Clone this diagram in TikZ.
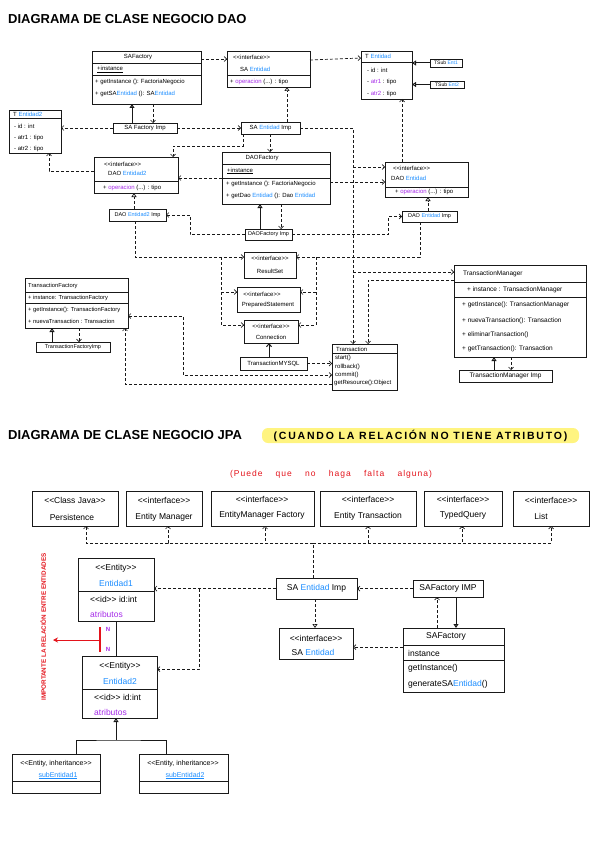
\documentclass[tikz,border=0pt]{standalone}
\usepackage{fontspec}
\setmainfont{Liberation Sans}
\newfontfamily\hlfont[LetterSpace=17]{Liberation Sans}
\newfontfamily\rdfont[LetterSpace=12]{Liberation Sans}
\usetikzlibrary{arrows.meta,calc}
\definecolor{eb}{HTML}{1A8CFF}
\definecolor{pu}{HTML}{A52AE8}
\definecolor{rd}{HTML}{E3131B}
\definecolor{hl}{HTML}{FFF480}
\newcommand\LLa{<{}<}
\newcommand\GGa{>{}>}
\newcommand\Bl[1]{\textcolor{eb}{#1}}
\newcommand\Pu[1]{\textcolor{pu}{#1}}
\newcommand\mkbox[5]{\node[box,minimum width={#4-#2},minimum height={#5-#3}] (#1) at (#2,#3) {};}
\newcommand\hdv[2]{\draw[bl] ($(#1.north west)+(0,#2)$) -- ($(#1.north east)+(0,#2)$);}
\begin{document}
\begin{tikzpicture}[x=1pt,y=-1pt,
  box/.style={draw=black!90,line width=0.9pt,inner sep=0pt,outer sep=0pt,anchor=north west},
  bl/.style={draw=black!90,line width=0.9pt},
  dl/.style={draw=black!90,line width=0.7pt,dash pattern=on 3pt off 2pt},
  sol/.style={draw=black!90,line width=1pt},
  oa/.style={-{Straight Barb[length=2.5pt,width=5pt]}},
  boa/.style={{Straight Barb[length=2.5pt,width=5pt]}-{Straight Barb[length=2.5pt,width=5pt]}},
  inh/.style={-{Triangle[open,length=4pt,width=5pt]}},
  t/.style={inner sep=0pt,anchor=west,font=\fontsize{6}{7}\selectfont},
  tc/.style={inner sep=0pt,font=\fontsize{6}{7}\selectfont},
  ts/.style={inner sep=0pt,font=\fontsize{5}{6}\selectfont},
  tss/.style={inner sep=0pt,font=\fontsize{5.5}{6}\selectfont},
  tw/.style={inner sep=0pt,anchor=west,font=\fontsize{6.5}{8}\selectfont},
  tf/.style={inner sep=0pt,anchor=west,font=\fontsize{5.8}{7}\selectfont},
  j/.style={inner sep=0pt,font=\fontsize{8.5}{10}\selectfont},
  jw/.style={j,anchor=west},
  je/.style={inner sep=0pt,font=\fontsize{7}{8}\selectfont},
]
\useasboundingbox (0,0) rectangle (599,848);

% ================= DAO =================
\node[anchor=west,inner sep=0pt,font=\bfseries\fontsize{13}{15}\selectfont] (ttl1) at (8,19) {DIAGRAMA DE CLASE NEGOCIO DAO};

\mkbox{safac}{92}{51}{201}{104}
\hdv{safac}{12}\hdv{safac}{24}
\node[tc] (safacA) at (138,57.5) {SAFactory};
\node[t] (safacB) at (97,69.5) {\underline{+instance}};
\node[t] (safacC) at (95,82) {+ getInstance (): FactoriaNegocio};
\node[t] (safacD) at (95,93.5) {+ getSA\Bl{Entidad} (): SA\Bl{Entidad}};

\mkbox{saint}{227}{51}{310}{87}
\hdv{saint}{24}
\node[t] (saintA) at (233,57.5) {\LLa interface\GGa};
\node[t] (saintB) at (240,69) {SA \Bl{Entidad}};
\node[t] (saintC) at (230,81.5) {+ \Pu{operacion} (...) : tipo};

\mkbox{tent}{361}{51}{412}{99}
\hdv{tent}{11}
\node[t] (tentA) at (365,56.5) {T \Bl{Entidad}};
\node[t] (tentB) at (367,70) {- id : int};
\node[t] (tentC) at (367,82) {- \Pu{atr1} : tipo};
\node[t] (tentD) at (367,93.5) {- \Pu{atr2} : tipo};

\mkbox{tsubA}{430}{59}{462}{67}
\node[ts] (tsubAt) at (tsubA.center) {TSub \Bl{Ent1}};
\mkbox{tsubB}{430}{81}{464}{88}
\node[ts] (tsubBt) at (tsubB.center) {TSub \Bl{Ent2}};

\mkbox{saimp}{241}{122}{300}{134}
\node[tc] (saimpt) at (saimp.center) {SA \Bl{Entidad} Imp};
\mkbox{safimp}{113}{123}{177}{133}
\node[tc] (safimpt) at (safimp.center) {SA Factory Imp};

\mkbox{tentb}{9}{110}{61}{153}
\hdv{tentb}{8}
\node[t] (tentbA) at (13,114) {T \Bl{Entidad2}};
\node[t] (tentbB) at (14,126) {- id : int};
\node[t] (tentbC) at (14,137.5) {- atr1 : tipo};
\node[t] (tentbD) at (14,148.5) {- atr2 : tipo};

\mkbox{daoib}{94}{157}{178}{193}
\hdv{daoib}{24}
\node[t] (daoibA) at (104,164) {\LLa interface\GGa};
\node[t] (daoibB) at (108,173) {DAO \Bl{Entidad2}};
\node[t] (daoibC) at (103,188) {+ \Pu{operacion} (...) : tipo};

\mkbox{daoibimp}{109}{209}{166}{221}
\node[tss] (daoibimpt) at (daoibimp.center) {DAO \Bl{Entidad2} Imp};

\mkbox{daof}{222}{152}{330}{204}
\hdv{daof}{12}\hdv{daof}{26}
\node[tc] (daofA) at (262,158) {DAOFactory};
\node[t] (daofB) at (227,171) {\underline{+instance}};
\node[t] (daofC) at (226,184) {+ getInstance (): FactoriaNegocio};
\node[t] (daofD) at (226,195.5) {+ getDao \Bl{Entidad} (): Dao \Bl{Entidad}};

\mkbox{daofimp}{245}{229}{292}{240}
\node[tss] (daofimpt) at (daofimp.center) {DAOFactory Imp};

\mkbox{daoi}{385}{162}{468}{197}
\hdv{daoi}{25}
\node[t] (daoiA) at (393,168) {\LLa interface\GGa};
\node[t] (daoiB) at (391,178) {DAO \Bl{Entidad}};
\node[t] (daoiC) at (395,192) {+ \Pu{operacion} (...) : tipo};

\mkbox{daoiimp}{402}{211}{457}{222}
\node[tss] (daoiimpt) at (daoiimp.center) {DAO \Bl{Entidad} Imp};

\mkbox{rs}{244}{252}{296}{278}
\node[tc] (rsA) at (270,258.5) {\LLa interface\GGa};
\node[tc] (rsB) at (270,271) {ResultSet};
\mkbox{ps}{237}{287}{300}{312}
\node[tc] (psA) at (262,294) {\LLa interface\GGa};
\node[tc] (psB) at (268,305) {PreparedStatement};
\mkbox{conn}{244}{320}{298}{343}
\node[tc] (connA) at (271,326) {\LLa interface\GGa};
\node[tc] (connB) at (271,337) {Connection};
\mkbox{tmysql}{240}{357}{307}{370}
\node[tc] (tmysqlt) at (tmysql.center) {TransactionMYSQL};

\mkbox{trans}{332}{344}{397}{390}
\hdv{trans}{9}
\node[t] (transA) at (336,349) {Transaction};
\node[t] (transB) at (335,358) {start()};
\node[t] (transC) at (335,366.5) {rollback()};
\node[t] (transD) at (335,374.5) {commit()};
\node[t] (transE) at (334,382.5) {getResource():Object};

\mkbox{tm}{454}{265}{586}{357}
\hdv{tm}{17}\hdv{tm}{32}
\node[tw] (tmA) at (463,274) {TransactionManager};
\node[tw] (tmB) at (467,290) {+ instance : TransactionManager};
\node[tw] (tmC) at (462,305) {+ getInstance(): TransactionManager};
\node[tw] (tmD) at (462,321) {+ nuevaTransaction(): Transaction};
\node[tw] (tmE) at (462,335) {+ eliminarTransaction()};
\node[tw] (tmF) at (462,349) {+ getTransaction(): Transaction};

\mkbox{tmimp}{459}{370}{552}{382}
\node[inner sep=0pt,font=\fontsize{6.5}{8}\selectfont] (tmimpt) at (tmimp.center) {TransactionManager Imp};

\mkbox{tf}{25}{278}{128}{328}
\hdv{tf}{14}\hdv{tf}{25}
\node[tf] (tfA) at (28,285.5) {TransactionFactory};
\node[tf] (tfB) at (28,297.5) {+ instance: TransactionFactory};
\node[tf] (tfC) at (28,310) {+ getInstance(): TransactionFactory};
\node[tf] (tfD) at (28,321) {+ nuevaTransaction : Transaction};

\mkbox{tfimp}{36}{342}{110}{352}
\node[tss] (tfimpt) at (tfimp.center) {TransactionFactoryImp};

% connectors DAO
\draw[dl,oa] ($(safac.north east)+(0,8)$) -- ($(saint.north west)+(0,8)$);
\draw[dl,oa] ($(saint.north east)+(0,9)$) -- ($(tent.north west)+(0,7)$);
\draw[sol,inh] (tsubA.west) -- (tsubA.west -| tent.east);
\draw[sol,inh] (tsubB.west) -- (tsubB.west -| tent.east);
\draw[sol,inh] ($(safimp.north west)+(19,0)$) -- ($(safac.south west)+(40,0)$);
\draw[dl,oa] ($(safac.south west)+(61,0)$) -- ($(safimp.north west)+(40,0)$);
\draw[dl,oa] (safimp.east) -- (safimp.east -| saimp.west);
\draw[dl,oa] (safimp.west) -- (safimp.west -| tentb.east);
\draw[dl,inh] ($(saimp.north west)+(46,0)$) -- ($(saint.south west)+(60,0)$);
\draw[dl,oa] ($(saimp.south west)+(2,0)$) -- ++(0,12) -| ($(daoib.north west)+(79,0)$);
\draw[dl,oa] ($(saimp.south west)+(29,0)$) -- ($(daof.north west)+(48,0)$);
\draw[dl,oa] (saimp.east) -| ($(trans.north west)+(21,0)$);
\draw[dl,oa] ($(daoi.north west)+(-32,5)$) -- ($(daoi.north west)+(0,5)$);
\draw[dl,oa] ($(tm.north west)+(-101,7)$) -- ($(tm.north west)+(0,7)$);
\draw[dl,oa] ($(tm.north west)+(0,15)$) -| ($(trans.north west)+(36,0)$);
\draw[dl,oa] ($(daoi.north west)+(17,0)$) -- ($(tent.south west)+(41,0)$);
\draw[dl,oa] ($(daoib.north west)+(0,14)$) -| ($(tentb.south west)+(40,0)$);
\draw[dl,inh] ($(daoibimp.north west)+(25,0)$) -- ($(daoib.south west)+(40,0)$);
\draw[dl,oa] ($(daof.north west)+(0,26)$) -- ($(daoib.north east)+(0,21)$);
\draw[dl,oa] ($(daof.north east)+(0,30)$) -- ($(daoi.north west)+(0,20)$);
\draw[sol,inh] ($(daofimp.north west)+(15,0)$) -- ($(daof.south west)+(38,0)$);
\draw[dl,oa] ($(daof.south west)+(59,0)$) -- ($(daofimp.north west)+(36,0)$);
\draw[dl,oa] (daofimp.west) -- ++(-55,0) |- (daoibimp.east);
\draw[dl,oa] (daofimp.east) -- ++(96,0) |- (daoiimp.west);
\draw[dl,inh] ($(daoiimp.north west)+(26,0)$) -- ($(daoi.south west)+(43,0)$);
\draw[dl,oa] ($(daoiimp.south west)+(18,0)$) |- ($(rs.north east)+(0,5)$);
\draw[dl,oa] ($(rs.north east)+(20,5)$) |- ($(conn.north east)+(0,5)$);
\draw[dl,oa] ($(ps.north east)+(16,5)$) -- ($(ps.north east)+(0,5)$);
\draw[dl,oa] ($(daoibimp.south west)+(26,0)$) |- ($(rs.north west)+(0,5)$);
\draw[dl,oa] ($(rs.north west)+(-23,5)$) |- ($(conn.north west)+(0,5)$);
\draw[dl,oa] ($(ps.north west)+(-16,5)$) -- ($(ps.north west)+(0,5)$);
\draw[sol,-{Straight Barb[length=3pt,width=5pt]}] ($(tmysql.north west)+(29,0)$) -- ($(conn.south west)+(25,0)$);
\draw[dl,oa] (tmysql.east) -- (tmysql.east -| trans.west);
\draw[dl,boa] ($(tf.north east)+(0,38)$) -- ++(55,0) |- ($(trans.north west)+(0,31)$);
\draw[dl,oa] ($(trans.north west)+(0,40)$) -| ($(tf.south west)+(100,0)$);
\draw[sol,inh] ($(tfimp.north west)+(16,0)$) -- ($(tf.south west)+(27,0)$);
\draw[dl,oa] ($(tf.south west)+(54,0)$) -- ($(tfimp.north west)+(43,0)$);
\draw[sol,inh] ($(tmimp.north west)+(35,0)$) -- ($(tm.south west)+(40,0)$);
\draw[dl,oa] ($(tm.south west)+(57,0)$) -- ($(tmimp.north west)+(52,0)$);

% ================= JPA =================
\node[anchor=west,inner sep=0pt,font=\bfseries\fontsize{13}{15}\selectfont] (ttl2) at (8,435) {DIAGRAMA DE CLASE NEGOCIO JPA};
\node[fill=hl,rounded corners=6pt,inner sep=0pt,minimum width=317,minimum height=15,font=\hlfont\bfseries\fontsize{10.5}{12}\selectfont] (hlt) at (420.5,435.5) {(CUANDO LA RELACIÓN NO TIENE ATRIBUTO)};
\node[text=rd,inner sep=0pt,font=\rdfont\fontsize{8.5}{10}\selectfont] (note) at (331,474) {\makebox[202pt][s]{(Puede que no haga falta alguna)}};

\mkbox{per}{32}{491}{118}{526}
\node[j] (perA) at (75,500) {\LLa Class Java\GGa};
\node[j] (perB) at (72,517) {Persistence};
\mkbox{em}{126}{491}{202}{526}
\node[j] (emA) at (164,500) {\LLa interface\GGa};
\node[j] (emB) at (164,517) {Entity Manager};
\mkbox{emf}{211}{491}{314}{526}
\node[j] (emfA) at (262,499) {\LLa interface\GGa};
\node[j] (emfB) at (262,515.5) {EntityManager Factory};
\mkbox{et}{320}{491}{416}{526}
\node[j] (etA) at (368,499) {\LLa interface\GGa};
\node[j] (etB) at (368,516) {Entity Transaction};
\mkbox{tq}{424}{491}{502}{526}
\node[j] (tqA) at (463,499) {\LLa interface\GGa};
\node[j] (tqB) at (463,515.5) {TypedQuery};
\mkbox{li}{513}{491}{589}{526}
\node[j] (liA) at (551,500) {\LLa interface\GGa};
\node[j] (liB) at (541,516.5) {List};

\mkbox{jsaimp}{276}{578}{357}{599}
\node[j] (jsaimpt) at (jsaimp.center) {SA \Bl{Entidad} Imp};
\mkbox{jsafimp}{413}{580}{483}{597}
\node[j] (jsafimpt) at (jsafimp.center) {SAFactory IMP};
\mkbox{jsaint}{279}{628}{353}{659}
\node[j] (jsaintA) at (316,638) {\LLa interface\GGa};
\node[j] (jsaintB) at (313,652) {SA \Bl{Entidad}};
\mkbox{jsaf}{403}{628}{504}{692}
\hdv{jsaf}{17}\hdv{jsaf}{32}
\node[j] (jsafA) at (446,636.5) {SAFactory};
\node[jw] (jsafB) at (408,653) {instance};
\node[jw] (jsafC) at (408,668) {getInstance()};
\node[jw] (jsafD) at (408,684) {generateSA\Bl{Entidad}()};

\mkbox{ent1}{78}{558}{154}{621}
\hdv{ent1}{33}
\node[j] (ent1A) at (116,568) {\LLa Entity\GGa};
\node[j] (ent1B) at (116,583) {\Bl{Entidad1}};
\node[jw] (ent1C) at (90,599) {\LLa id\GGa{} id:int};
\node[jw] (ent1D) at (90,614.5) {\Pu{atributos}};
\mkbox{ent2}{82}{656}{157}{718}
\hdv{ent2}{33}
\node[j] (ent2A) at (120,666) {\LLa Entity\GGa};
\node[j] (ent2B) at (120,681) {\Bl{Entidad2}};
\node[jw] (ent2C) at (94,697) {\LLa id\GGa{} id:int};
\node[jw] (ent2D) at (94,712) {\Pu{atributos}};

\mkbox{sub1}{12}{754}{100}{793}
\hdv{sub1}{27}
\node[je] (sub1A) at (56,764) {\LLa Entity, inheritance\GGa};
\node[je] (sub1B) at (58,775.5) {\textcolor{eb}{\underline{subEntidad1}}};
\mkbox{sub2}{139}{754}{228}{793}
\hdv{sub2}{27}
\node[je] (sub2A) at (183,764) {\LLa Entity, inheritance\GGa};
\node[je] (sub2B) at (185,775.5) {\textcolor{eb}{\underline{subEntidad2}}};

% JPA connectors
\coordinate (hub) at ($(jsaimp.north west)+(37,-35)$);
\draw[dl] ($(jsaimp.north west)+(37,0)$) -- (hub);
\foreach \bn/\dx in {per/54,em/42,emf/54,et/48,tq/38,li/38}
  \draw[dl,oa] (hub) -| ($(\bn.south west)+(\dx,0)$);
\draw[dl,oa] (jsafimp.west) -- (jsafimp.west -| jsaimp.east);
\draw[dl,oa] (jsaimp.west) -- (jsaimp.west -| ent1.east);
\draw[dl,oa] ($(jsaimp.west -| ent1.east)+(45,0)$) |- ($(ent2.north east)+(0,13)$);
\draw[dl,inh] ($(jsaimp.south west)+(39,0)$) -- ($(jsaint.north west)+(36,0)$);
\draw[dl,oa] ($(jsaf.north west)+(0,19)$) -- ($(jsaint.north east)+(0,19)$);
\draw[dl,oa] ($(jsaf.north west)+(34,0)$) -- ($(jsafimp.south west)+(24,0)$);
\draw[sol,inh] ($(jsafimp.south west)+(43,0)$) -- ($(jsaf.north west)+(53,0)$);
\draw[sol] ($(ent1.south west)+(38,0)$) -- ($(ent2.north west)+(34,0)$);
\coordinate (inhj) at ($(ent2.south west)+(34,22)$);
\draw[sol] ($(sub1.north west)+(64,0)$) |- (inhj) -| ($(sub2.north west)+(27,0)$);
\draw[sol,inh] (inhj) -- ($(ent2.south west)+(34,0)$);

% relation annotation
\node[text=pu,inner sep=0pt,font=\bfseries\fontsize{6}{7}\selectfont] (nA) at (108,629) {N};
\node[text=pu,inner sep=0pt,font=\bfseries\fontsize{6}{7}\selectfont] (nB) at (108,649) {N};
\coordinate (rbT) at ($(ent1.south west)+(22,6)$);
\coordinate (rbB) at ($(ent1.south west)+(22,31)$);
\coordinate (rbM) at ($(ent1.south west)+(22,19)$);
\coordinate (rbE) at ($(ent1.south west)+(-25,19)$);
\draw[rd,line width=1.1pt] (rbT) -- (rbB);
\draw[rd,line width=1pt,-{Stealth[length=5pt,width=5pt]}] (rbM) -- (rbE);
\node[rotate=90,text=rd,inner sep=0pt,font=\bfseries\fontsize{6.3}{7}\selectfont] (imp) at (43,627) {IMPORTANTE LA RELACIÓN ENTRE ENTIDADES};
\end{tikzpicture}
\end{document}
